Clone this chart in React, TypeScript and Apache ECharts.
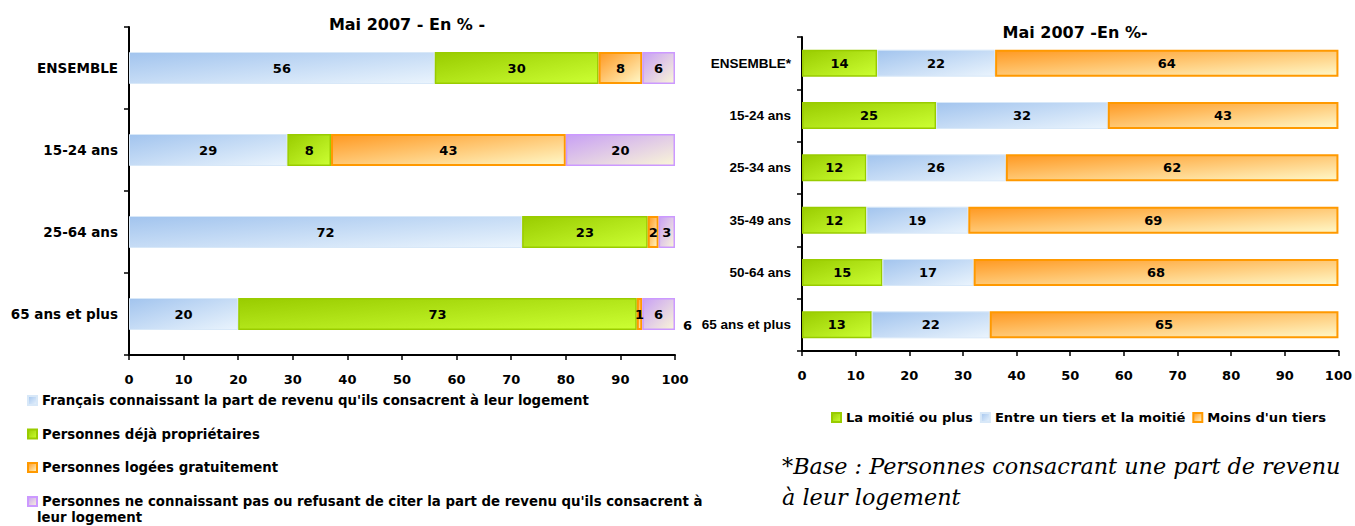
import React, { useEffect, useRef } from "react";
import * as echarts from "echarts";

const leftCategories = ["ENSEMBLE", "15-24 ans", "25-64 ans", "65 ans et plus"];
const leftKnow = [56, 29, 72, 20];
const leftOwners = [30, 8, 23, 73];
const leftFree = [8, 43, 2, 1];
const leftUnknown = [6, 20, 3, 6];
const leftNames = [
  "Français connaissant la part de revenu qu'ils consacrent à leur logement",
  "Personnes déjà propriétaires",
  "Personnes logées gratuitement",
  "Personnes ne connaissant pas ou refusant de citer la part de revenu qu'ils consacrent à leur logement",
];

const rightCategories = ["ENSEMBLE*", "15-24 ans", "25-34 ans", "35-49 ans", "50-64 ans", "65 ans et plus"];
const rightHalf = [14, 25, 12, 12, 15, 13];
const rightThird = [22, 32, 26, 19, 17, 22];
const rightLess = [64, 43, 62, 69, 68, 65];
const rightNames = ["La moitié ou plus", "Entre un tiers et la moitié", "Moins d'un tiers"];

const xTicks = [0, 100, 10];

const FONT = "DejaVu Sans, Arial, sans-serif";
const NARROW = "Liberation Sans, Arial, sans-serif";

const grad = (a: string, b: string) =>
  new echarts.graphic.LinearGradient(0, 0, 1, 1, [
    { offset: 0, color: a },
    { offset: 1, color: b },
  ]);

const BLUE = () => ({ color: grad("#a2c4ee", "#eaf4fd"), borderColor: "#d8e8f8", borderWidth: 1 });
const GREEN = () => ({ color: grad("#99cc00", "#ccff33"), borderColor: "#99cc00", borderWidth: 1.5 });
const ORANGE = () => ({ color: grad("#ff9922", "#fff8c8"), borderColor: "#ff9900", borderWidth: 2 });
const PURPLE = () => ({ color: grad("#c8a0f4", "#faf6d8"), borderColor: "#cc99ff", borderWidth: 1.5 });

const label = {
  show: true,
  position: "inside",
  color: "#000",
  fontFamily: FONT,
  fontWeight: "bold",
  fontSize: 13,
};

export default function App() {
  const ref = useRef<HTMLDivElement>(null);
  useEffect(() => {
    if (!ref.current) return;
    const chart = echarts.init(ref.current, undefined, { renderer: "svg" });

    const xAxisBase = (gridIndex: number) => ({
      type: "value",
      gridIndex,
      min: xTicks[0],
      max: xTicks[1],
      interval: xTicks[2],
      axisLine: { show: true, lineStyle: { color: "#000", width: 2 } },
      axisTick: { show: true, length: 5, lineStyle: { color: "#000", width: 1.5 } },
      axisLabel: { color: "#000", fontFamily: FONT, fontWeight: "bold", fontSize: 13, margin: 18 },
      splitLine: { show: false },
    });
    const yAxisBase = (gridIndex: number, data: string[], family: string, size: number) => ({
      type: "category",
      gridIndex,
      data,
      inverse: true,
      axisLine: { show: true, lineStyle: { color: "#000", width: 2 } },
      axisTick: { show: true, length: 5, lineStyle: { color: "#000", width: 1.5 } },
      axisLabel: { color: "#000", fontFamily: family, fontWeight: "bold", fontSize: size, margin: 11 },
    });

    const leftSeries = [leftKnow, leftOwners, leftFree, leftUnknown].map((d, i) => ({
      type: "bar",
      name: leftNames[i],
      stack: "left",
      xAxisIndex: 0,
      yAxisIndex: 0,
      barWidth: 32,
      data: d,
      label,
      itemStyle: [BLUE, GREEN, ORANGE, PURPLE][i](),
    }));
    const rightSeries = [rightHalf, rightThird, rightLess].map((d, i) => ({
      type: "bar",
      name: rightNames[i],
      stack: "right",
      xAxisIndex: 1,
      yAxisIndex: 1,
      barWidth: 27,
      data: d,
      label,
      itemStyle: [GREEN, BLUE, ORANGE][i](),
    }));

    const legendText = { color: "#000", fontFamily: FONT, fontWeight: "bold", fontSize: 13.3 };

    chart.setOption({
      animation: false,
      grid: [
        { left: 129, top: 27, width: 546, height: 328 },
        { left: 802, top: 37, width: 540, height: 314 },
      ],
      xAxis: [xAxisBase(0), xAxisBase(1)],
      yAxis: [
        yAxisBase(0, leftCategories, FONT, 13.5),
        yAxisBase(1, rightCategories, NARROW, 13.5),
      ],
      legend: [
        {
          orient: "vertical",
          left: 22,
          top: 389,
          itemWidth: 9,
          itemHeight: 9,
          itemGap: 20.5,
          icon: "rect",
          data: leftNames.slice(0, 3),
          textStyle: legendText,
          selectedMode: false,
        },
        {
          orient: "vertical",
          left: 22,
          top: 490,
          itemWidth: 9,
          itemHeight: 9,
          icon: "rect",
          data: [leftNames[3]],
          formatter: () =>
            "Personnes ne connaissant pas ou refusant de citer la part de revenu qu'ils consacrent à",
          textStyle: legendText,
          selectedMode: false,
        },
        {
          orient: "horizontal",
          left: 826,
          top: 406,
          itemWidth: 9,
          itemHeight: 9,
          itemGap: 7,
          icon: "rect",
          data: rightNames,
          textStyle: { ...legendText, fontSize: 13.1 },
          selectedMode: false,
        },
      ],
      graphic: [
        {
          type: "text",
          x: 407,
          y: 24,
          style: {
            text: "Mai 2007 - En % -",
            fill: "#000",
            font: `bold 16px ${FONT}`,
            textAlign: "center",
            textVerticalAlign: "middle",
          },
        },
        {
          type: "text",
          x: 1075,
          y: 32,
          style: {
            text: "Mai 2007 -En %-",
            fill: "#000",
            font: `bold 16px ${FONT}`,
            textAlign: "center",
            textVerticalAlign: "middle",
          },
        },
        {
          type: "text",
          x: 37,
          y: 517,
          style: {
            text: "leur logement",
            fill: "#000",
            font: `bold 13.3px ${FONT}`,
            textAlign: "left",
            textVerticalAlign: "middle",
          },
        },
        {
          type: "text",
          x: 683,
          y: 325,
          style: {
            text: "6",
            fill: "#000",
            font: `bold 13px ${FONT}`,
            textAlign: "left",
            textVerticalAlign: "middle",
          },
        },
        {
          type: "text",
          x: 782,
          y: 466,
          style: {
            text: "*Base : Personnes consacrant une part de revenu",
            fill: "#000",
            font: `italic 22.3px "DejaVu Serif", serif`,
            textAlign: "left",
            textVerticalAlign: "middle",
          },
        },
        {
          type: "text",
          x: 782,
          y: 497,
          style: {
            text: "à leur logement",
            fill: "#000",
            font: `italic 22.3px "DejaVu Serif", serif`,
            textAlign: "left",
            textVerticalAlign: "middle",
          },
        },
      ],
      series: [...leftSeries, ...rightSeries],
    });
    return () => chart.dispose();
  }, []);
  return (
    <div
      ref={ref}
      style={{ position: "fixed", left: 0, top: 0, width: 1355, height: 526, background: "#fff" }}
    />
  );
}
